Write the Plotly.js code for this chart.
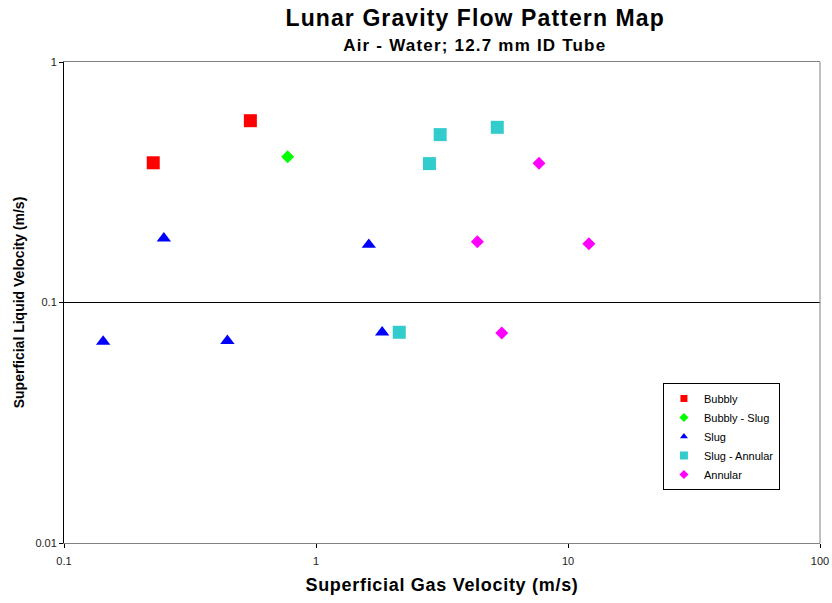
<!DOCTYPE html>
<html>
<head>
<meta charset="utf-8">
<script src="https://cdn.plot.ly/plotly-3.0.1.min.js"></script>
<style>
html,body{margin:0;padding:0;background:#fff;}
#chart{width:832px;height:603px;}
</style>
</head>
<body>
<div id="chart"></div>
<script>
// Superficial gas velocity (m/s), superficial liquid velocity (m/s)
var bubblyX = [0.226, 0.549];
var bubblyY = [0.381, 0.570];
var bubblySlugX = [0.772];
var bubblySlugY = [0.404];
var slugX = [0.249, 0.143, 0.445, 1.62, 1.83];
var slugY = [0.185, 0.0688, 0.0693, 0.174, 0.0752];
var slugAnnularX = [2.14, 2.82, 3.11, 5.24];
var slugAnnularY = [0.0752, 0.378, 0.499, 0.535];
var annularX = [7.67, 4.37, 12.1, 5.46];
var annularY = [0.379, 0.179, 0.1755, 0.0747];
var seriesNames = ["Bubbly", "Bubbly - Slug", "Slug", "Slug - Annular", "Annular"];
var xTickVals = [0.1, 1, 10, 100];
var xTickText = ["0.1", "1", "10", "100"];
var yTickVals = [0.01, 0.1, 1];
var yTickText = ["0.01", "0.1", "1"];

var F = "Arial, 'Liberation Sans', sans-serif";
var symbols = ["square", "diamond", "triangle-up", "square", "diamond"];
var colors = ["#FF0000", "#00FF00", "#0000FF", "#33CCCC", "#FF00FF"];
var sizes = [13, 10, 12.5, 13, 10];
var legendSizes = [7, 7, 7, 8, 7];
var xs = [bubblyX, bubblySlugX, slugX, slugAnnularX, annularX];
var ys = [bubblyY, bubblySlugY, slugY, slugAnnularY, annularY];

var data = [];
for (var i = 0; i < 5; i++) {
  data.push({x: xs[i], y: ys[i], name: seriesNames[i], type: "scatter", mode: "markers",
    showlegend: false, legendgroup: "g" + i,
    marker: {symbol: symbols[i], color: colors[i], size: sizes[i], line: {width: 0}}});
}
// legend-only entries with small symbols, as in the original legend
for (var j = 0; j < 5; j++) {
  data.push({x: [null], y: [null], name: seriesNames[j], type: "scatter", mode: "markers",
    showlegend: true, legendgroup: "g" + j,
    marker: {symbol: symbols[j], color: colors[j], size: legendSizes[j], line: {width: 0}}});
}

var layout = {
  width: 832, height: 603,
  margin: {l: 64, r: 12, t: 62, b: 60},
  paper_bgcolor: "#fff", plot_bgcolor: "#fff",
  font: {family: F, color: "#000"},
  showlegend: true,
  legend: {x: 0.947, y: 0.3327, xref: "paper", yref: "paper", xanchor: "right", yanchor: "top",
    bgcolor: "#fff", bordercolor: "#000", borderwidth: 1, itemwidth: 30,
    font: {family: F, size: 11, color: "#000"}, tracegroupgap: 0, traceorder: "normal"},
  xaxis: {type: "log", range: [-1, 2], tickvals: xTickVals, ticktext: xTickText,
    ticks: "outside", ticklen: 4, tickcolor: "#000", showgrid: false, zeroline: false,
    showline: true, linecolor: "#808080", linewidth: 1, mirror: true,
    ticklabelstandoff: 4,
    tickfont: {family: F, size: 11, color: "#222"},
    title: {text: "Superficial Gas Velocity (m/s)", font: {family: F, size: 18, color: "#000", weight: "bold"}, standoff: 12}},
  yaxis: {type: "log", range: [-2, 0], tickvals: yTickVals, ticktext: yTickText,
    ticks: "outside", ticklen: 4, tickcolor: "#000", showgrid: true, gridcolor: "#000", gridwidth: 1,
    zeroline: false, showline: true, linecolor: "#000", linewidth: 1, mirror: false,
    tickfont: {family: F, size: 11, color: "#222"},
    title: {text: "Superficial Liquid Velocity (m/s)", font: {family: F, size: 14, color: "#000", weight: "bold"}, standoff: 7}},
  shapes: [
    {type: "line", xref: "paper", yref: "paper", x0: 1, x1: 1, y0: 0, y1: 1, line: {color: "#808080", width: 1}}
  ],
  annotations: [
    {text: "<b>Lunar Gravity Flow Pattern Map</b>", xref: "paper", yref: "paper", x: 0.5437, y: 1.0915,
     xanchor: "center", yanchor: "middle", showarrow: false, font: {family: F, size: 23, color: "#000"}},
    {text: "<b>Air - Water; 12.7 mm ID Tube</b>", xref: "paper", yref: "paper", x: 0.543, y: 1.0333,
     xanchor: "center", yanchor: "middle", showarrow: false, font: {family: F, size: 17, color: "#000"}}
  ]
};
Plotly.newPlot("chart", data, layout, {displayModeBar: false, staticPlot: true}).then(function () {
  var t = document.querySelectorAll(".annotation-text");
  for (var k = 0; k < t.length; k++) {
    t[k].style.letterSpacing = k === 0 ? "1.1px" : "1.2px";
  }
  var xt = document.querySelector(".xtitle");
  if (xt) xt.style.letterSpacing = "0.7px";
});
</script>
</body>
</html>
